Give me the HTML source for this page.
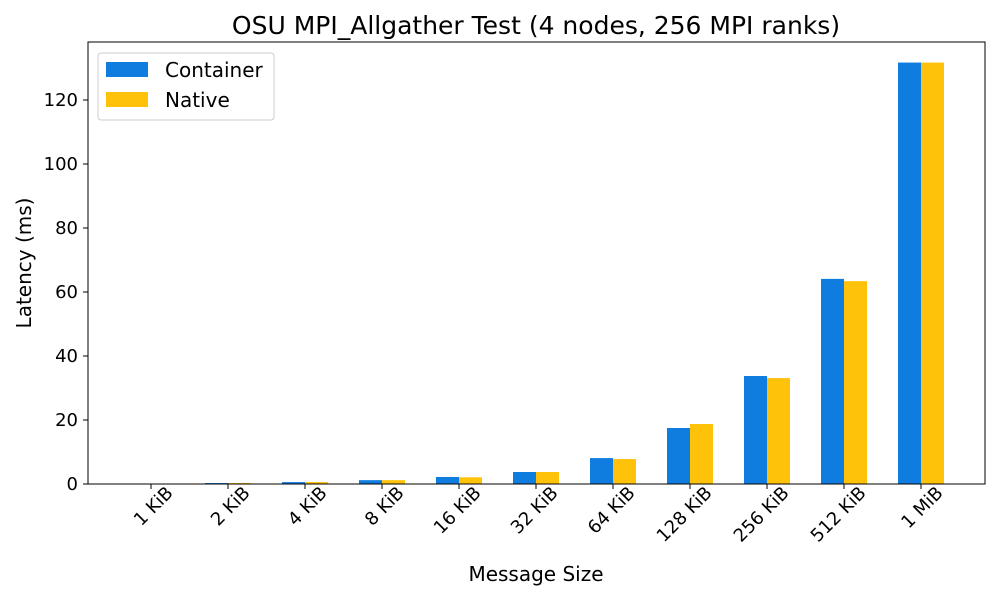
<!DOCTYPE html>
<html><head><meta charset="utf-8"><style>
body{margin:0;background:#fff;font-family:"Liberation Sans","DejaVu Sans",sans-serif}
</style></head><body>
<svg width="1000" height="600" xmlns="http://www.w3.org/2000/svg" font-family="DejaVu Sans, Liberation Sans, sans-serif">
<rect width="1000" height="600" fill="#fff"/>
<text x="536" y="34" text-anchor="middle" font-size="25">OSU MPI_Allgather Test (4 nodes, 256 MPI ranks)</text>
<g id="plot" stroke="none"></g>
<rect x="88" y="42" width="897" height="442" fill="none" stroke="#000" stroke-width="1"/>
<text x="536" y="581" text-anchor="middle" font-size="20">Message Size</text>
<text transform="translate(31,263) rotate(-90)" text-anchor="middle" font-size="20">Latency (ms)</text>
<g>
<rect x="98" y="53" width="176" height="67" rx="3" fill="#fff" stroke="#ccc"/>
<rect x="106" y="62" width="42" height="15" fill="#0f7ce0"/>
<text x="165" y="77" font-size="20">Container</text>
<rect x="106" y="92" width="42" height="15" fill="#ffc20a"/>
<text x="165" y="107" font-size="20">Native</text>
</g>
</svg>
<script>
const categories=["1 KiB","2 KiB","4 KiB","8 KiB","16 KiB","32 KiB","64 KiB","128 KiB","256 KiB","512 KiB","1 MiB"];
const containerValues=[0.15,0.3,0.6,1.2,2.2,3.75,8.1,17.5,33.75,64.1,131.7];
const nativeValues=[0.15,0.3,0.6,1.2,2.1,3.75,7.8,18.75,33.1,63.4,131.7];
const yTicks=[0,20,40,60,80,100,120];
const NS="http://www.w3.org/2000/svg";
const g=document.getElementById('plot');
const x=i=>151+77*i;
const y=v=>484-v*3.2;
const bw=23;
function mk(t,a){const e=document.createElementNS(NS,t);for(const k in a)e.setAttribute(k,a[k]);g.appendChild(e);return e;}
yTicks.forEach(v=>{
 const t=mk('line',{x1:83,x2:88,y1:y(v),y2:y(v),stroke:'#000'});
 
 
 const l=mk('text',{x:78,y:y(v)+6,'text-anchor':'end','font-size':18});
 l.textContent=v;
 
 
});
categories.forEach((c,i)=>{
 const b1=mk('rect',{x:x(i)-bw,y:y(containerValues[i]),width:bw,height:containerValues[i]*3.2,fill:'#0f7ce0'});
 
 
 const b2=mk('rect',{x:x(i),y:y(nativeValues[i]),width:bw,height:nativeValues[i]*3.2,fill:'#ffc20a'});
 
 
 const t=mk('line',{x1:x(i),x2:x(i),y1:484,y2:489,stroke:'#000'});
 
 
 const l=mk('text',{transform:`translate(${x(i)+23},${494}) rotate(-45)`,'text-anchor':'end','font-size':18});
 l.textContent=c;
 
 
});
</script>
</body></html>
